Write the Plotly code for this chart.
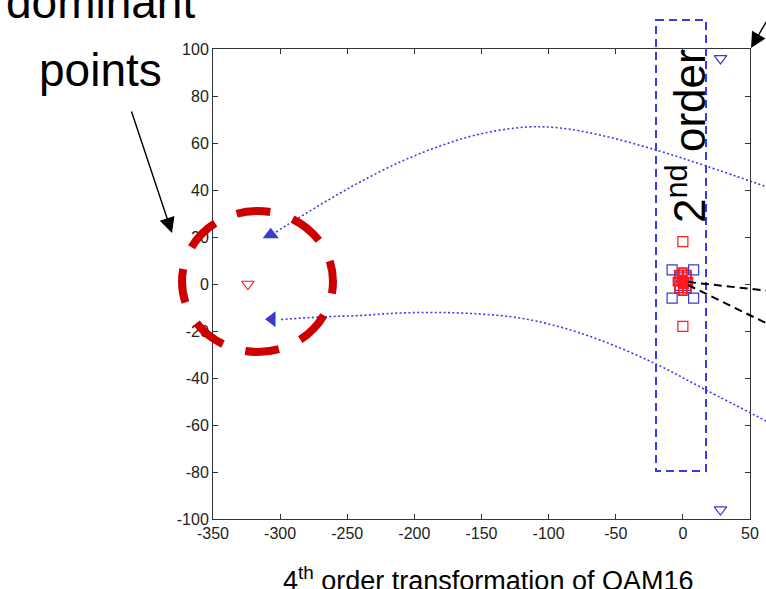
import plotly.graph_objects as go

W, H = 766, 589
NARROW = "Liberation Sans Narrow, Liberation Sans, Arial, sans-serif"

# ---------------- data (axis units) ----------------
x_ticks = [-350, -300, -250, -200, -150, -100, -50, 0, 50]
x_ticktext = ["-350", "-300", "-250", "-200", "-150", "-100", "-50", "0", "50"]
y_ticks = [-100, -80, -60, -40, -20, 0, 20, 40, 60, 80, 100]
y_ticktext = ["-100", "-80", "-60", "-40", "-20", "0", "20", "40", "60", "80", "100"]

# 4th order dominant points
dom_red_tri_x = [-324]
dom_red_tri_y = [0]
dom_blue_up_x = [-307]
dom_blue_up_y = [21]
dom_blue_left_x = [-306]
dom_blue_left_y = [-15]

# other 4th order points
blue_tri_down_x = [28, 28]
blue_tri_down_y = [96, -96]
red_sq_x = [0, 0]
red_sq_y = [18, -18]
blue_sq_x = [-8, 8, -8, 8]
blue_sq_y = [6, 6, -6, -6]

# central cluster
blue_cl_x = [-3, 3, -3, 3]
blue_cl_y = [3, 3, -1, -1]
red_cl_x = [0, -3, 3, -3, 3, 0, 0, -4, 4, 0, -1, 1]
red_cl_y = [1, 4, 4, -2, -2, 5, -3, 1, 1, 1, 2, 0]

# ---------------- slide decorations (figure pixel units) ----------------
upper_curve_x = [276, 300, 330, 360, 400, 440, 480, 527, 560, 600, 656, 706, 770]
upper_curve_y = [232, 217, 199, 182, 162, 146, 134, 127, 128, 135, 150, 166, 188]
lower_curve_x = [281, 320, 360, 400, 440, 480, 520, 560, 600, 656, 706, 770]
lower_curve_y = [319.5, 317, 315.5, 313, 312.5, 314, 318, 327, 340, 364, 390, 423]

circle_box = [182, 211, 333, 352]          # x0, y0, x1, y1
order2_box = [656, 20, 706, 471]
dashed_lines = [[688, 282, 770, 291], [688, 285, 770, 325]]
arrows = [[172, 233, 131, 110], [751, 48, 772, 12]]   # head x,y  tail x,y

fig = go.Figure()

# ---------- data traces ----------
def add(x, y, symbol, color, size, lw=1.2):
    fig.add_trace(go.Scatter(
        x=x, y=y, mode="markers", xaxis="x", yaxis="y",
        marker=dict(symbol=symbol, size=size, color=color,
                    line=dict(color=color, width=lw)),
        showlegend=False, hoverinfo="skip", cliponaxis=False))

BLUE = "#3a3ad0"
RED = "#ff1a1a"
add(blue_cl_x, blue_cl_y, "square-open", BLUE, 8)
add(red_cl_x, red_cl_y, "square-open", RED, 8, lw=1.8)
add([0], [1], "asterisk-open", RED, 12, lw=2)
add(blue_sq_x, blue_sq_y, "square-open", BLUE, 10)
add(red_sq_x, red_sq_y, "square-open", RED, 10)
add(blue_tri_down_x, blue_tri_down_y, "triangle-down-open", BLUE, 11)
add(dom_red_tri_x, dom_red_tri_y, "triangle-down-open", RED, 11)
add(dom_blue_up_x, dom_blue_up_y, "triangle-up", BLUE, 14, lw=0)
add(dom_blue_left_x, dom_blue_left_y, "triangle-left", BLUE, 14, lw=0)

# ---------- decoration traces on full-figure overlay axes ----------
for cx, cy in [(upper_curve_x, upper_curve_y), (lower_curve_x, lower_curve_y)]:
    fig.add_trace(go.Scatter(
        x=cx, y=cy, mode="lines", xaxis="x2", yaxis="y2",
        line=dict(color="#3b3bf0", width=1.6, dash="2px,2.4px", shape="spline", smoothing=1.0),
        showlegend=False, hoverinfo="skip"))

shapes = []
x0, y0, x1, y1 = circle_box
shapes.append(dict(type="circle", xref="x2", yref="y2", x0=x0, y0=y0, x1=x1, y1=y1,
                   line=dict(color="#cc0000", width=8,
                             dash="12px,23.4px,34px,23.4px,34px,23.4px,34px,23.4px,34px,23.4px,34px,23.4px,34px,23.4px,34px,23.4px,22px"),
                   layer="above"))
x0, y0, x1, y1 = order2_box
shapes.append(dict(type="rect", xref="x2", yref="y2", x0=x0, y0=y0, x1=x1, y1=y1,
                   line=dict(color="#3a3ae0", width=2, dash="8px,5px"), layer="above"))
for lx0, ly0, lx1, ly1 in dashed_lines:
    shapes.append(dict(type="line", xref="x2", yref="y2", x0=lx0, y0=ly0, x1=lx1, y1=ly1,
                       line=dict(color="black", width=2, dash="8px,5px"), layer="above"))

annotations = []
for hx, hy, tx, ty in arrows:
    annotations.append(dict(xref="x2", yref="y2", axref="x2", ayref="y2",
                            x=hx, y=hy, ax=tx, ay=ty, text="", showarrow=True,
                            arrowhead=2, arrowsize=2.2, arrowwidth=1.4, arrowcolor="black"))

annotations += [
    dict(xref="x2", yref="y2", x=100, y=2, text="dominant", showarrow=False,
         font=dict(family=NARROW, size=46, color="black"), xanchor="center", yanchor="middle"),
    dict(xref="x2", yref="y2", x=100, y=70, text="points", showarrow=False,
         font=dict(family=NARROW, size=46, color="black"), xanchor="center", yanchor="middle"),
    dict(xref="x2", yref="y2", x=686, y=136, text="2<sup>nd</sup> order", showarrow=False,
         textangle=-90, font=dict(family=NARROW, size=44, color="black"),
         xanchor="center", yanchor="middle"),
    dict(xref="x2", yref="y2", x=488, y=579, text="4<sup>th</sup> order transformation of QAM16",
         showarrow=False, font=dict(family=NARROW, size=27, color="black"),
         xanchor="center", yanchor="middle"),
]

axis_common = dict(showgrid=False, zeroline=False, showline=True, linecolor="#333333",
                   linewidth=1, mirror="ticks", ticks="inside", ticklen=5, tickcolor="#333333",
                   tickfont=dict(family=NARROW, size=16, color="#222222"),
                   automargin=False, fixedrange=True)

fig.update_layout(
    width=W, height=H,
    margin=dict(l=0, r=0, t=0, b=0, pad=0),
    paper_bgcolor="white", plot_bgcolor="rgba(0,0,0,0)",
    xaxis=dict(domain=[213 / W, 750 / W], range=[-350, 50], tickmode="array",
               tickvals=x_ticks, ticktext=x_ticktext, anchor="y", **axis_common),
    yaxis=dict(domain=[70 / H, 540 / H], range=[-100, 100], tickmode="array",
               tickvals=y_ticks, ticktext=y_ticktext, anchor="x", **axis_common),
    xaxis2=dict(domain=[0, 1], range=[0, W], visible=False, anchor="y2", fixedrange=True),
    yaxis2=dict(domain=[0, 1], range=[H, 0], visible=False, anchor="x2", fixedrange=True),
    shapes=shapes, annotations=annotations, showlegend=False,
)

fig.write_html("out.html")
